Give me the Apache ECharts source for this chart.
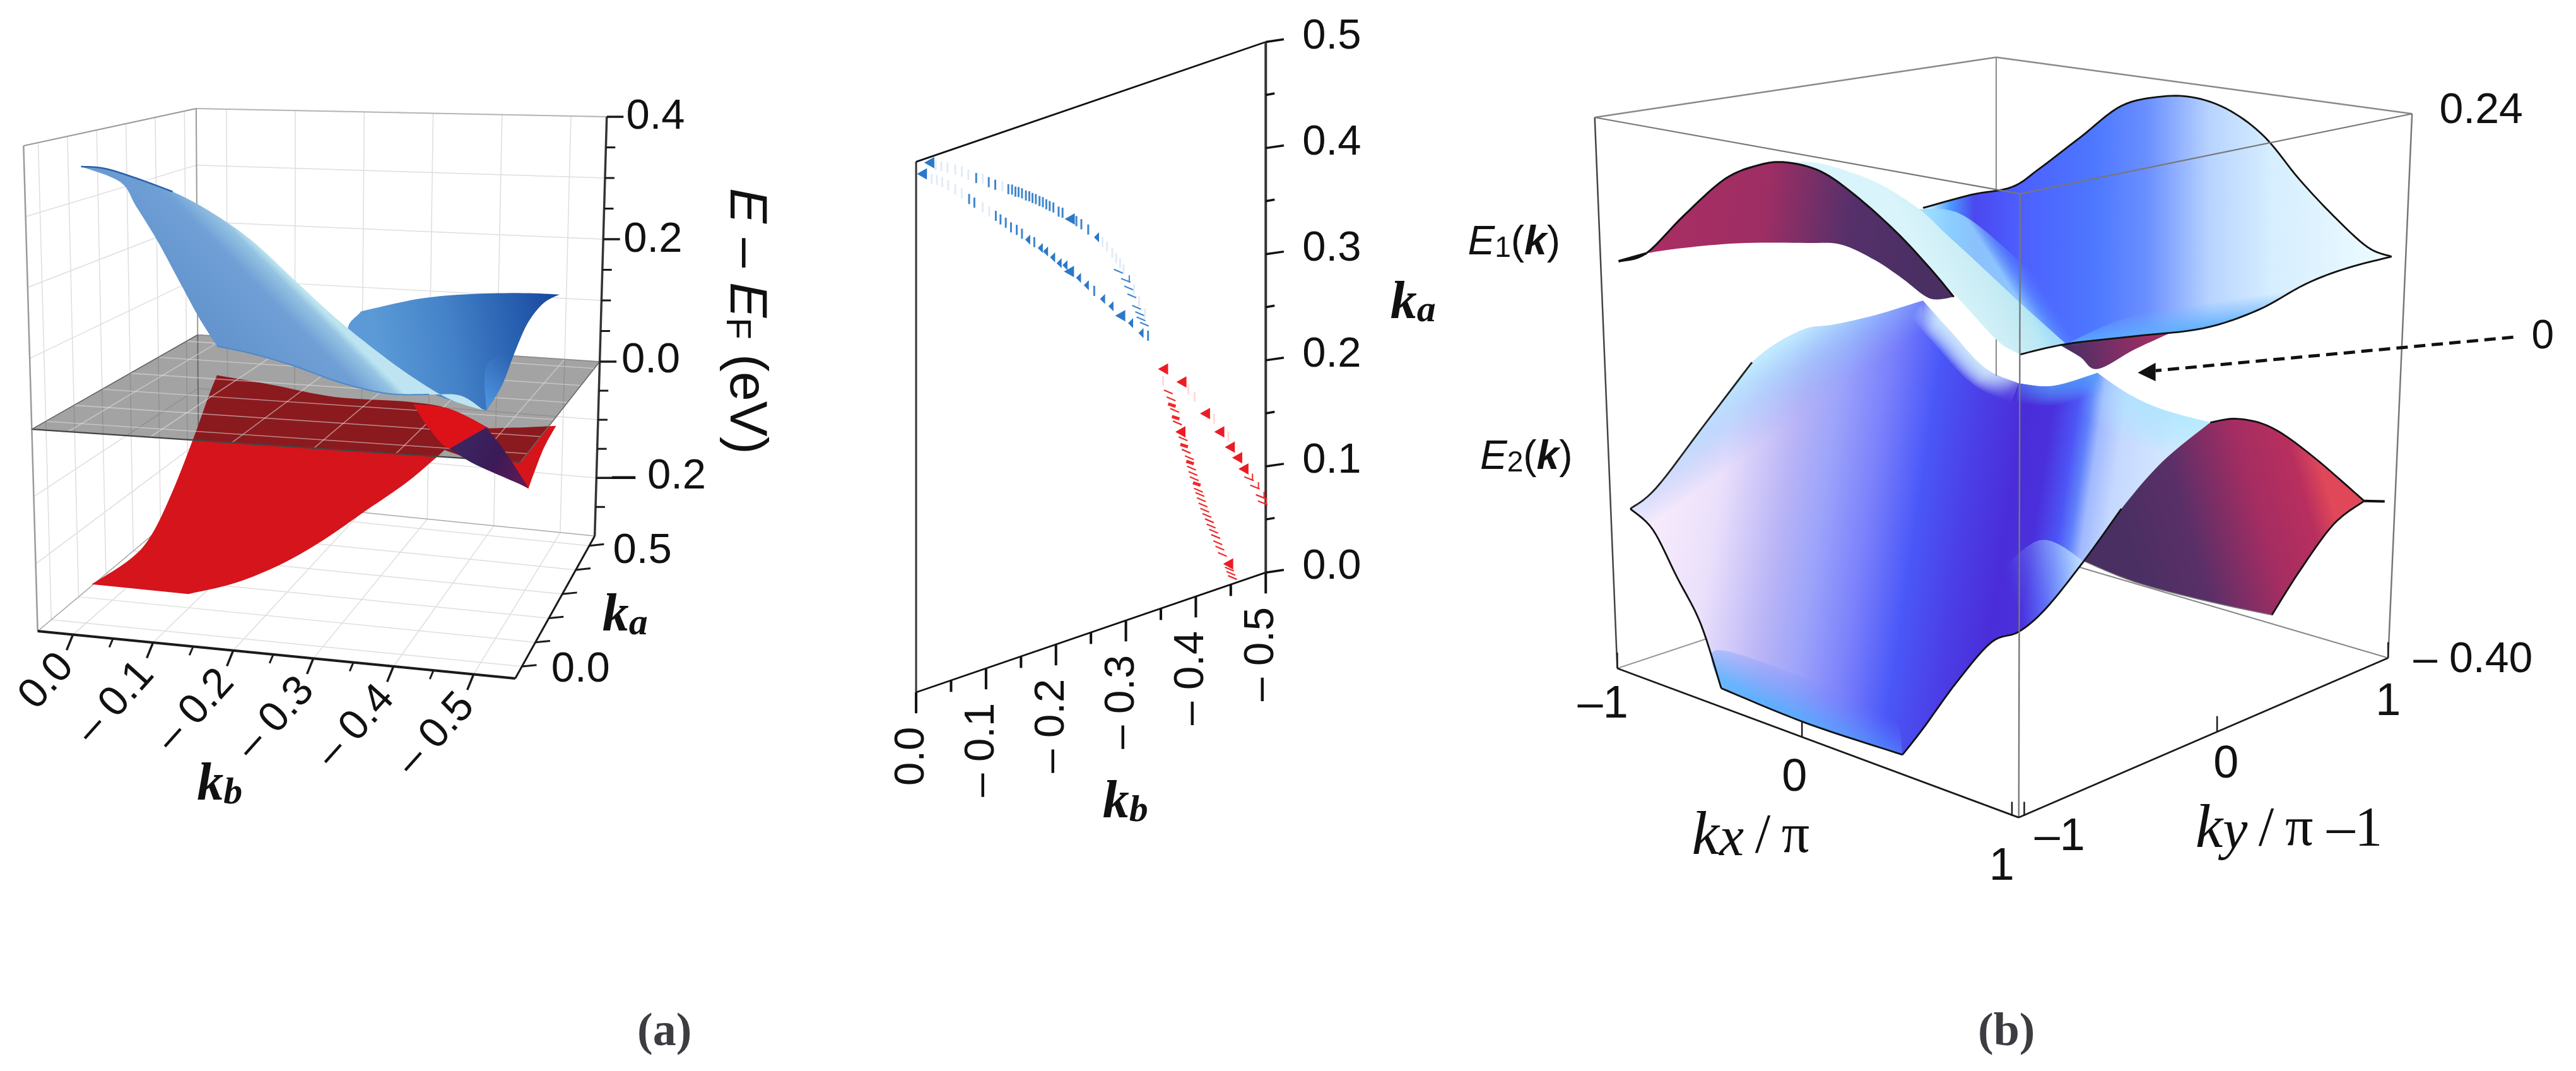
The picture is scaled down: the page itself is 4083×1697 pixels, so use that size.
<!DOCTYPE html>
<html><head><meta charset="utf-8">
<style>html,body{margin:0;background:#fff}#c{width:4083px;height:1697px}</style>
<script src="https://cdn.jsdelivr.net/npm/echarts@6/dist/echarts.min.js"></script>
</head><body><div id="c"></div><script>
// ---------- tick values ----------
const aKbMajor=[0,-0.1,-0.2,-0.3,-0.4,-0.5];
const aKbMinor=[-0.05,-0.15,-0.25,-0.35,-0.45];
const aKaTicks=[0,0.1,0.2,0.3,0.4,0.5];
const aEMajor=[0.4,0.2,0,-0.2];
const aEMinor=[0.35,0.3,0.25,0.15,0.1,0.05,-0.05,-0.1,-0.15,-0.25];
const aEGrid=[0.4,0.3,0.2,0.1,0,-0.1,-0.2];
const mKbMajor=[0,-0.1,-0.2,-0.3,-0.4,-0.5];
const mKbMinor=[-0.05,-0.15,-0.25,-0.35,-0.45];
const mKaMajor=[0,0.1,0.2,0.3,0.4,0.5];
const mKaMinor=[0.05,0.15,0.25,0.35,0.45];

// ---------- panel (a) surfaces: outlines ----------
const aBlueSheetRidge=[[155,188],[200,192],[260,212],[330,240],[400,280],[480,340],[560,420],[640,500],[720,570],[790,625],[860,670],[925,693]];
const aBlueSheetLow=[[925,693],[880,662],[820,660],[740,658],[650,635],[560,600],[480,575],[415,560]];
const aBlueSheetLeft=[[415,560],[380,500],[340,420],[300,340],[260,270],[230,220],[155,188]];
const aBlueWingTop=[[690,488],[800,462],[900,452],[1000,450],[1070,453]];
const aBlueWingRight=[[1070,453],[1040,470],[1010,510],[985,570],[960,640],[930,693]];
const aBlueWingLow=[[930,693],[800,645],[670,540],[690,488]];
const aRedLeft=[[175,1053],[250,1000],[290,950],[330,860],[370,750],[400,660],[415,620]];
const aRedTop=[[415,620],[520,640],[640,665],[780,675],[860,690],[935,730]];
const aRedInner=[[935,730],[900,750],[850,775]];
const aRedBottom=[[850,775],[780,840],[700,900],[620,960],[540,1010],[450,1050],[360,1073]];
const aRedFoot=[[360,1073],[175,1053]];
const aRedWingTop=[[935,730],[1000,728],[1063,725]];
const aRedWingRight=[[1063,725],[1040,770],[1020,825],[1010,855]];
const aRedWingLow=[[1010,855],[960,825],[900,795],[850,775]];
const aCrescentUp=[[790,680],[860,690],[935,730]];
const aCrescentLow=[[935,730],[905,745],[860,772],[820,730],[790,680]];
const aOverlapUp=[[860,772],[930,728]];
const aOverlapRight=[[930,728],[960,770],[985,810],[1010,853]];
const aOverlapLow=[[1010,853],[950,825],[900,800],[860,772]];

// ---------- middle panel: k-space markers (kb, ka, kind) ----------
const blueUpperKb=[-.0197,-.0279,-.0361,-.0448,-.056,-.0653,-.0747,-.0859,-.0953,-.1039,-.1132,-.1233,-.1319,-.1372,-.142,-.1465,-.1514,-.157,-.1619,-.1664,-.1712,-.1765,-.1813,-.1862,-.191,-.1963,-.2038,-.2094,-.2206,-.2292,-.2363,-.2461,-.258,-.2666,-.273,-.2805,-.2861,-.2917,-.2966,-.2891,-.3003,-.304,-.3085,-.3153,-.3198,-.3216,-.3265,-.3317,-.3115,-.319,-.3272];
const blueUpperKa=[.4947,.4903,.4875,.4845,.48,.4759,.4708,.4653,.4628,.4573,.4528,.449,.4444,.4428,.4398,.4384,.4361,.4328,.4309,.4283,.4262,.4231,.421,.4179,.4152,.4126,.407,.4047,.3963,.3923,.3878,.3806,.3706,.3641,.3587,.351,.3448,.3386,.3315,.3316,.3204,.3124,.304,.2916,.2847,.2793,.2732,.2612,.3093,.2967,.283];
const blueUpperKind=[2,0,0,0,0,0,0,1,0,1,1,0,1,1,1,1,1,1,1,1,1,1,1,1,1,1,1,1,2,1,1,1,3,0,0,0,0,0,0,4,5,4,4,4,4,4,4,1,0,0,0];
const blueLowerKb=[-.0092,-.0223,-.0298,-.0373,-.0459,-.056,-.0653,-.0758,-.0833,-.0953,-.1046,-.114,-.1207,-.1282,-.1357,-.1439,-.1514,-.1596,-.169,-.1776,-.1851,-.1952,-.2045,-.2128,-.2195,-.2322,-.2434,-.2547,-.2666,-.2786,-.2928,-.3067,-.3216];
const blueLowerKa=[.4866,.4787,.476,.4724,.4674,.4612,.4555,.4478,.4427,.4355,.4294,.4233,.4184,.4136,.4075,.4033,.398,.3906,.3861,.3786,.3736,.3659,.3583,.3544,.347,.3382,.3287,.3208,.3105,.3009,.2888,.2787,.266];
const blueLowerKind=[2,0,0,0,0,0,0,1,1,0,0,1,1,1,1,1,1,3,1,3,3,3,3,3,2,3,3,1,3,3,2,3,3];
const redLeftKb=[-.354,-.3532,-.3607,-.3646,-.3658,-.3697,-.3712,-.3737,-.3788,-.3818,-.3833,-.3863,-.3908,-.3917,-.3938,-.3959,-.3977,-.4013,-.4037,-.4058,-.4079,-.4103,-.4128,-.4158,-.4194,-.4218,-.4254,-.4284,-.4314,-.4344,-.438,-.4471,-.448,-.4501,-.4525];
const redLeftKa=[.2247,.2137,.2017,.1943,.1881,.1822,.175,.1695,.16,.1528,.1459,.1399,.1329,.1281,.1223,.1169,.1115,.1057,.0993,.0948,.0894,.0839,.0784,.0728,.067,.0615,.0557,.0501,.0435,.0378,.0311,.0201,.015,.0105,.006];
const redLeftKind=[2,0,4,4,6,4,6,4,2,4,6,4,4,6,4,4,4,6,4,4,4,4,4,4,4,4,4,4,4,4,4,2,4,4,4];
const redRightKb=[-.3803,-.3893,-.3983,-.414,-.426,-.4344,-.4465,-.4495,-.46,-.469,-.4765,-.485,-.4931,-.4961];
const redRightKa=[.2066,.1976,.1887,.1693,.1616,.1474,.1402,.1295,.1173,.1047,.0937,.0839,.0731,.0665];
const redRightKind=[2,0,0,2,0,2,0,2,2,2,5,5,5,5];

// ---------- panel (b) surfaces: outlines ----------
const e1LobeArch=[[245,427],[285,412],[340,340],[400,270],[450,243],[490,238],[540,255],[590,300],[650,370],[700,440],[735,495]];
const e1LobeLow=[[735,495],[700,498],[660,460],[620,425],[570,395],[520,392],[430,392],[350,400],[285,412],[245,427]];
const e1MainTop=[[690,325],[760,300],[820,285],[860,250],[920,190],[980,130],[1040,112],[1090,115],[1140,140],[1190,190],[1240,270],[1290,340],[1340,400],[1375,418]];
const e1MainFront=[[1375,418],[1310,440],[1250,470],[1180,520],[1100,555],[1000,570],[900,585],[832,605]];
const e1MainBack=[[832,605],[760,480],[690,325]];
const e1RidgeEdge=[[490,238],[540,255],[590,300],[650,370],[700,440],[750,510],[800,580],[832,605]];
const e1RidgeInner=[[899,585],[865,545],[832,506],[770,430],[720,370],[684,327],[620,275],[540,240],[490,238]];
const e1UnderTop=[[890,587],[1000,570],[1062,558]];
const e1UnderLow=[[1062,558],[1000,595],[945,633],[920,610],[890,587]];
const e2LobeTop=[[1110,735],[1150,728],[1200,745],[1260,800],[1335,885]];
const e2LobeRight=[[1335,885],[1290,930],[1240,1020],[1200,1103]];
const e2LobeLow=[[1200,1103],[1100,1075],[1000,1040],[925,1000]];
const e2LobeLeft=[[925,1000],[980,900],[1040,810],[1110,735]];
const e2Top=[[262,900],[300,860],[370,740],[440,620],[510,560],[560,548],[620,530],[690,502]];
const e2SaddleLeft=[[690,502],[730,560],[780,630],[830,660]];
const e2SaddleArc=[[830,660],[880,665],[945,640]];
const e2SaddleRight=[[945,640],[990,680],[1040,710],[1110,735]];
const e2FrontRight=[[1110,735],[1040,810],[980,900],[925,1000],[870,1090],[830,1135],[790,1155],[740,1230],[690,1320],[660,1370]];
const e2Bottom=[[660,1370],[520,1310],[395,1243]];
const e2Left=[[395,1243],[365,1120],[330,1030],[295,940],[262,900]];
const gapUpper=[[1335,885],[1300,640],[1000,540],[800,560],[700,470],[690,502]];
const backGap=[[797,540],[797,646]];
const arrowLine=[[1553,572],[1030,636]];

// ---------- helpers ----------
const SANS='"Liberation Sans"', SERIF='"Liberation Serif"';
function catmull(edge){
  if(edge.length<3) return edge.slice();
  const out=[];
  for(let i=0;i<edge.length-1;i++){
    const p0=edge[Math.max(i-1,0)],p1=edge[i],p2=edge[i+1],p3=edge[Math.min(i+2,edge.length-1)];
    for(let s=0;s<8;s++){const t=s/8,t2=t*t,t3=t2*t;
      out.push([0,1].map(k=>.5*(2*p1[k]+(p2[k]-p0[k])*t+(2*p0[k]-5*p1[k]+4*p2[k]-p3[k])*t2+(3*p1[k]-p0[k]-3*p2[k]+p3[k])*t3)));}
  }
  out.push(edge[edge.length-1]);
  return out;
}
const poly=(P,edges,fill,opacity)=>({type:'polygon',shape:{points:[].concat(...edges.map(catmull)).map(P)},style:{fill,opacity:opacity==null?1:opacity}});
const grad=(P,a,b,stops)=>{const A=P(a),B=P(b);return new echarts.graphic.LinearGradient(A[0],A[1],B[0],B[1],stops.map(s=>({offset:s[0],color:s[1]})),true);};
const curve=(P,edge,stroke,lw,dash)=>({type:'polyline',shape:{points:catmull(edge).map(P)},style:{fill:null,stroke,lineWidth:lw,lineDash:dash||null,lineCap:'butt',lineJoin:'round'}});
const seg=(P,a,b,stroke,lw)=>({type:'line',shape:{x1:P(a)[0],y1:P(a)[1],x2:P(b)[0],y2:P(b)[1]},style:{stroke,lineWidth:lw}});
function label(P,pt,text,size,o){o=o||{};const q=P(pt);
  return {type:'text',x:q[0],y:q[1],rotation:o.rot||0,style:Object.assign({text,fontFamily:o.family||SANS,fontSize:size,fontStyle:o.style||'normal',fontWeight:o.weight||'normal',fill:'#111',align:o.align||'center',verticalAlign:'middle'},o.rich?{rich:o.rich}:{})};}
const layer=(g,draw)=>({type:'custom',coordinateSystem:'cartesian2d',xAxisIndex:g,yAxisIndex:g,data:[[0,0]],silent:true,clip:false,animation:false,
  renderItem:(params,api)=>({type:'group',children:draw(p=>api.coord(p))})});
const tri=(c,u,v,w)=>[0,1].map(k=>{
  const b=(c[0][k]*(1-u)+c[1][k]*u)*(1-v)+(c[3][k]*(1-u)+c[2][k]*u)*v;
  const t=(c[4][k]*(1-u)+c[5][k]*u)*(1-v)+(c[7][k]*(1-u)+c[6][k]*u)*v;
  return b*(1-w)+t*w;});
// soft glow along an edge: stacked translucent strokes of growing width (the part beyond the surface is masked afterwards)
function glow(P,edge,rgb,maxW,alpha,from,to,stops){
  const out=[];
  for(let i=10;i>=1;i--){
    const s=grad(P,from,to,(stops||[[0,0],[1,1]]).map(q=>[q[0],`rgba(${rgb},${alpha*q[1]})`]));
    out.push(curve(P,edge,s,maxW*i/10));
  }
  return out;
}
const KRICH={k:{fontFamily:SERIF,fontStyle:'italic',fontWeight:'bold',fontSize:84,fill:'#111'},s:{fontFamily:SERIF,fontStyle:'italic',fontWeight:'bold',fontSize:60,fill:'#111',verticalAlign:'bottom'}};

// ---------- projections of the box axes ----------
const aBox=[[72,1150],[985,1248],[1137,953],[380,870],[45,145],[1009,171],[1160,85],[375,68]];
const aE=E=>E>=0?.416+E/.4*.584:.416*(E+.3)/.3;
const projA=(kb,ka,E)=>tri(aBox,(kb-.044)/(-.596),(ka+.05)/.59,aE(E));
const aKbMin=-.552,aKbMax=.044,aKaMin=-.05,aKaMax=.54,aEMin=-.3,aEMax=.4;
const projM=(kb,ka)=>[160+(-kb/.5)*869,1287-(-kb/.5)*229-ka/.5*1014];
const bBox=[[243,1205],[830,1490],[1370,1185],[797,965],[210,152],[832,298],[1405,145],[797,37]];
const bU=x=>x<0?.46*(x+1):.46+.54*x, bV=y=>y<0?.537*(y+1):.537+.463*y;
const projB=(kx,ky,E)=>tri(bBox,bU(kx),bV(ky),(E+.4)/.64);

// ---------- panel (a) ----------
const aGridLayer=layer(0,P=>{
  const C='#dedede',out=[];
  aEGrid.forEach(E=>{out.push(seg(P,projA(aKbMax,aKaMax,E),projA(aKbMin,aKaMax,E),C,1.5),seg(P,projA(aKbMax,aKaMin,E),projA(aKbMax,aKaMax,E),C,1.5));});
  aKbMajor.forEach(k=>{out.push(seg(P,projA(k,aKaMax,aEMin),projA(k,aKaMax,aEMax),C,1.5),seg(P,projA(k,aKaMin,aEMin),projA(k,aKaMax,aEMin),C,1.5));});
  aKaTicks.forEach(k=>{out.push(seg(P,projA(aKbMax,k,aEMin),projA(aKbMax,k,aEMax),C,1.5),seg(P,projA(aKbMax,k,aEMin),projA(aKbMin,k,aEMin),C,1.5));});
  const G='#9a9a9a';
  out.push(seg(P,projA(aKbMax,aKaMin,aEMax),projA(aKbMax,aKaMax,aEMax),G,2),seg(P,projA(aKbMax,aKaMax,aEMax),projA(aKbMin,aKaMax,aEMax),'#b5b5b5',2),
    seg(P,projA(aKbMax,aKaMin,aEMax),projA(aKbMax,aKaMin,aEMin),G,2.5),seg(P,projA(aKbMax,aKaMax,aEMax),projA(aKbMax,aKaMax,aEMin),G,2),
    seg(P,projA(aKbMax,aKaMin,aEMin),projA(aKbMax,aKaMax,aEMin),'#aaa',1.5),seg(P,projA(aKbMax,aKaMax,aEMin),projA(aKbMin,aKaMax,aEMin),'#aaa',1.5));
  return out;
});
const aRedLayer=layer(0,P=>[
  poly(P,[aRedLeft,aRedTop,aRedInner,aRedBottom,aRedFoot],'#d5141b'),
  poly(P,[aRedWingTop,aRedWingRight,aRedWingLow,[[850,775],[935,730]]],'#d5141b')
]);
const aPlaneLayer=layer(0,P=>{
  const c=[projA(aKbMax,aKaMin,0),projA(aKbMin,aKaMin,0),projA(aKbMin,aKaMax,0),projA(aKbMax,aKaMax,0)];
  const out=[{type:'polygon',shape:{points:c.map(P)},style:{fill:'rgba(36,36,36,.42)'}}];
  aKbMajor.forEach(k=>out.push(seg(P,projA(k,aKaMin,0),projA(k,aKaMax,0),'rgba(225,225,225,.55)',1.6)));
  aKaTicks.forEach(k=>out.push(seg(P,projA(aKbMax,k,0),projA(aKbMin,k,0),'rgba(225,225,225,.55)',1.6)));
  out.push(seg(P,c[0],c[1],'#444',2.2),seg(P,c[1],c[2],'#666',1.5),seg(P,c[2],c[3],'#888',1.5),seg(P,c[3],c[0],'#666',1.5));
  return out;
});
const aTopLayer=layer(0,P=>[
  poly(P,[aCrescentUp,aCrescentLow],'#dd1218'),
  poly(P,[aOverlapUp,aOverlapRight,aOverlapLow],grad(P,[880,760],[1000,830],[[0,'#3a2660'],[.55,'#3b1a58'],[1,'#5a1b54']])),
  poly(P,[aBlueWingTop,aBlueWingRight,aBlueWingLow],grad(P,[720,560],[1060,500],[[0,'#5b9ad6'],[.4,'#4583c9'],[.75,'#2a62b2'],[1,'#1a4a9e']])),
  poly(P,[[[930,693],[960,640],[985,570]],[[985,570],[930,600],[930,693]]],grad(P,[925,680],[980,590],[[0,'#4c96e0'],[1,'rgba(70,130,210,0)']])),
  poly(P,[aBlueSheetRidge,aBlueSheetLow,aBlueSheetLeft],grad(P,[390,520],[520,380],[[0,'#6394cd'],[.7,'#6f9fd5'],[.92,'#94c3e2'],[1,'#bde4f0']])),
  curve(P,aBlueSheetRidge.slice(0,4),'#2c5fa8',2.5),
  curve(P,aBlueSheetLow.slice(2),'#4e88c8',2)
]);
const aAxisLayer=layer(0,P=>{
  const out=[],K='#1a1a1a';
  out.push(seg(P,projA(aKbMax,aKaMin,aEMin),projA(aKbMin,aKaMin,aEMin),K,4),seg(P,projA(aKbMin,aKaMin,aEMin),projA(aKbMin,aKaMax,aEMin),K,3),seg(P,projA(aKbMin,aKaMax,aEMin),projA(aKbMin,aKaMax,aEMax),'#333',3.5));
  aKbMajor.forEach(k=>{const a=projA(k,aKaMin,aEMin);out.push(seg(P,a,[a[0]-12,a[1]+32],K,3.5));});
  aKbMinor.forEach(k=>{const a=projA(k,aKaMin,aEMin);out.push(seg(P,a,[a[0]-7,a[1]+18],K,3));});
  aKaTicks.forEach(k=>{const a=projA(aKbMin,k,aEMin);out.push(seg(P,a,[a[0]+28,a[1]-3],K,3));});
  aEMajor.forEach(E=>{const a=projA(aKbMin,aKaMax,E);out.push(seg(P,a,[a[0]+32,a[1]],K,3.5));});
  aEMinor.forEach(E=>{const a=projA(aKbMin,aKaMax,E);out.push(seg(P,a,[a[0]+18,a[1]],K,3));});
  const tks=['0.0','– 0.1','– 0.2','– 0.3','– 0.4','– 0.5'];
  aKbMajor.forEach((k,i)=>{const a=projA(k,aKaMin,aEMin);out.push(label(P,[a[0]-12,a[1]+52],tks[i],67,{rot:.84,align:'right'}));});
  [['0.4',1197,85],['0.2',1192,340],['0.0',1188,590],['– 0.2',1170,830]].forEach(t=>out.push(label(P,[t[1],t[2]],t[0],67,{align:'left'})));
  out.push(label(P,[1228,985],'0.5',67),label(P,[1110,1230],'0.0',67));
  out.push(label(P,[1195,1120],'{k|k}{s|a}',84,{rich:KRICH}),label(P,[420,1470],'{k|k}{s|b}',84,{rich:KRICH}));
  out.push(label(P,[1425,508],'{i|E} {r|– }{i|E}{f|F}{r| (eV)}',84,{rot:-Math.PI/2,rich:{i:{fontFamily:SANS,fontStyle:'italic',fontSize:84,fill:'#111'},r:{fontFamily:SANS,fontSize:84,fill:'#111'},f:{fontFamily:SANS,fontSize:56,fill:'#111',verticalAlign:'bottom'}}}));
  return out;
});

// ---------- middle panel ----------
function marks(P,kb,ka,kind,dark,light,fill){
  const out=[];
  kb.forEach((b,i)=>{
    const q=P(projM(b,ka[i])),x=q[0],y=q[1],k=kind[i];
    const ln=(x1,y1,x2,y2,c,w)=>({type:'line',shape:{x1:x+x1,y1:y+y1,x2:x+x2,y2:y+y2},style:{stroke:c,lineWidth:w}});
    const tr=(l,r,h)=>({type:'polygon',shape:{points:[[x-l,y],[x+r,y-h],[x+r,y+h]]},style:{fill}});
    if(k===0) out.push(ln(0,-8,0,8,light,3));
    else if(k===1) out.push(ln(0,-8,0,8,dark,3));
    else if(k===2) out.push(tr(9,7,9));
    else if(k===3) out.push(tr(4,4,8));
    else if(k===4) out.push(ln(-7,-3,7,3,dark,2.2));
    else if(k===5) out.push(ln(-8,-3,7,3,dark,2.2),ln(5,-8,5,3,dark,2));
    else if(k===6) out.push(ln(-6,-2,6,2,dark,5));
  });
  return out;
}
const mAxisLayer=layer(1,P=>{
  const out=[],K='#111',G='#333';
  const BL=projM(0,0),TL=projM(0,.5),TR=projM(-.5,.5),BR=projM(-.5,0);
  out.push(seg(P,BL,TL,G,3),seg(P,TL,TR,K,2.8),seg(P,BL,BR,K,2.8),seg(P,BR,TR,G,4));
  mKbMajor.forEach(k=>{const a=projM(k,0);out.push(seg(P,a,[a[0],a[1]+40],K,4));});
  mKbMinor.forEach(k=>{const a=projM(k,0);out.push(seg(P,a,[a[0],a[1]+22],K,4));});
  mKaMajor.forEach(k=>{const a=projM(-.5,k);out.push(seg(P,a,[a[0]+45,a[1]-5],K,3.5));});
  mKaMinor.forEach(k=>{const a=projM(-.5,k);out.push(seg(P,a,[a[0]+22,a[1]-3],K,3.5));});
  ['0.0','– 0.1','– 0.2','– 0.3','– 0.4','– 0.5'].forEach((t,i)=>{const a=projM(mKbMajor[i],0);out.push(label(P,[a[0]-10,a[1]+66],t,67,{rot:Math.PI/2,align:'right'}));});
  ['0.0','0.1','0.2','0.3','0.4','0.5'].forEach((t,i)=>{const a=projM(-.5,mKaMajor[i]);out.push(label(P,[1120,a[1]-10],t,67,{align:'left'}));});
  out.push(label(P,[1395,545],'{k|k}{s|a}',84,{rich:KRICH}),label(P,[680,1500],'{k|k}{s|b}',84,{rich:KRICH}));
  return out;
});
const mMarkLayer=layer(1,P=>[].concat(
  marks(P,blueUpperKb,blueUpperKa,blueUpperKind,'#3f86cc','#e2ebf8','#2b79c9'),
  marks(P,blueLowerKb,blueLowerKa,blueLowerKind,'#3f86cc','#e2ebf8','#2b79c9'),
  marks(P,redLeftKb,redLeftKa,redLeftKind,'#ee2a2a','#ffdcd8','#ec1c24'),
  marks(P,redRightKb,redRightKa,redRightKind,'#ee2a2a','#ffdcd8','#ec1c24')));

// ---------- panel (b) ----------
const bBackLayer=layer(2,P=>{
  const G='#8a8a8a';
  return [seg(P,projB(-1,-1,.24),projB(-1,1,.24),G,2.5),seg(P,projB(-1,1,.24),projB(1,1,.24),G,2.5),seg(P,projB(-1,1,.24),projB(-1,1,-.4),G,2),
    seg(P,projB(-1,-1,-.4),projB(-1,1,-.4),'#999',2),seg(P,projB(-1,1,-.4),projB(1,1,-.4),'#888',2.2),
    seg(P,projB(-1,-1,.24),projB(-1,-1,-.4),'#444',2.5),seg(P,projB(1,1,.24),projB(1,1,-.4),'#777',2.5)];
});
const CRIM=[[0,'#a92e63'],[.4,'#9d2e64'],[.72,'#55306a'],[1,'#4a2f63']];
const bLowerLayer=layer(2,P=>[].concat(
  [poly(P,[e2Top,e2SaddleLeft,e2SaddleArc,e2SaddleRight,e2FrontRight,e2Bottom,e2Left],grad(P,[262,797],[1091,960],[[0,'#fff8fd'],[.045,'#f8ecfb'],[.163,'#ebe0fb'],[.28,'#b7b3f6'],[.343,'#9da4fa'],[.427,'#7a80fb'],[.509,'#4a58f8'],[.593,'#4b3ee6'],[.667,'#4a2dd8'],[.717,'#4a30dc'],[.759,'#4d55f5'],[.781,'#5f80fb'],[.801,'#a0b8ff'],[.842,'#c5d8ff'],[1,'#e0f5ff']])),
   poly(P,[e2Top,[[690,502],[660,640],[480,780],[340,960],[262,900]]],grad(P,[500,570],[560,680],[[0,'rgba(190,235,255,.95)'],[.45,'rgba(150,205,255,.5)'],[1,'rgba(130,170,255,0)']])),
   poly(P,[e2Bottom,[[395,1243],[388,1170],[520,1225],[640,1290],[660,1370]]],grad(P,[505,1300],[535,1225],[[0,'rgba(70,175,255,.75)'],[.5,'rgba(90,155,255,.38)'],[1,'rgba(100,130,255,0)']])),
   poly(P,[[[925,1000],[870,1090],[830,1135],[790,1155]],[[790,1155],[790,1050],[860,960],[925,1000]]],grad(P,[925,1000],[815,1040],[[0,'rgba(190,225,255,.95)'],[.5,'rgba(140,175,255,.5)'],[1,'rgba(90,110,255,0)']]))],
  glow(P,e2SaddleLeft,'215,243,255',64,.2,[690,502],[830,660],[[0,0],[.2,1],[.75,1],[1,.15]]),
  glow(P,e2SaddleArc,'85,165,255',60,.12,[800,650],[880,665]),
  glow(P,e2SaddleRight,'170,230,255',130,.12,[945,640],[1010,690]),
  [poly(P,[e2LobeTop,e2LobeRight,e2LobeLow,e2LobeLeft],grad(P,[1000,1010],[1290,900],[[0,'#4a2f63'],[.3,'#5a2f68'],[.65,'#a52d62'],[.88,'#b82f5e'],[1,'#e0485a']])),
   poly(P,[e2SaddleLeft,e2SaddleArc,e2SaddleRight,e2LobeTop,gapUpper],'#fff'),
   curve(P,backGap,'#8a8a8a',2),
   curve(P,e2LobeTop,'#111',2.8),curve(P,e2LobeRight,'#111',2.8),curve(P,[[1335,885],[1365,886]],'#111',4),curve(P,e2LobeLow,'#777',1.5),
   curve(P,e2Top.slice(0,4),'#222',2.8),curve(P,e2Left,'#111',2.8),curve(P,e2Bottom,'#111',2.8),curve(P,e2FrontRight.slice(2),'#111',2.8)]
));
const bUpperLayer=layer(2,P=>[
  poly(P,[e1UnderTop,e1UnderLow],grad(P,[900,600],[1060,570],[[0,'#4a2f63'],[.45,'#7d2e66'],[1,'#b02e62']])),
  poly(P,[e1LobeArch,e1LobeLow],grad(P,[300,340],[690,400],CRIM)),
  poly(P,[e1MainTop,e1MainFront,e1MainBack],grad(P,[700,350],[1375,350],[[0,'#bfeaff'],[.044,'#4a9aff'],[.096,'#4a48ee'],[.2,'#4d60ff'],[.357,'#4d78ff'],[.47,'#6a8fff'],[.607,'#b8d4ff'],[.74,'#d6eeff'],[1,'#eefcff']])),
  poly(P,[[[899,585],[1000,570],[1100,555],[1180,520],[1250,470]],[[1250,470],[1150,500],[1000,530],[899,585]]],grad(P,[1000,572],[995,525],[[0,'rgba(90,175,255,.9)'],[1,'rgba(110,180,255,0)']])),
  poly(P,[[[899,585],[832,506],[770,430],[684,327]],[[684,327],[750,340],[850,450],[950,578],[899,585]]],grad(P,[832,506],[868,476],[[0,'rgba(150,215,255,.85)'],[.45,'rgba(100,170,255,.45)'],[1,'rgba(80,110,250,0)']])),
  poly(P,[e1RidgeEdge,[[832,605],[899,585]],e1RidgeInner],grad(P,[690,425],[790,355],[[0,'#daf4fb'],[.6,'#c8ecf4'],[.85,'#b8e8f4'],[1,'#a5ddfa']])),
  curve(P,e1MainFront,'#111',2.8),curve(P,e1MainTop,'#111',2.8),curve(P,e1LobeArch,'#111',3),
  curve(P,[[245,427],[285,412]],'#111',4)
]);
const bFrontLayer=layer(2,P=>{
  const out=[],G='#777',K='#1a1a1a';
  out.push(seg(P,projB(-1,-1,.24),projB(1,-1,.24),G,2.2),seg(P,projB(1,-1,.24),projB(1,1,.24),G,2.2),seg(P,projB(1,-1,.24),projB(1,-1,-.4),G,2.4),
    seg(P,projB(-1,-1,-.4),projB(1,-1,-.4),K,2.8),seg(P,projB(1,-1,-.4),projB(1,1,-.4),K,2.8));
  [-1,0,1].forEach(k=>{const a=projB(k,-1,-.4);out.push(seg(P,k===1?[a[0]-10,a[1]-3]:a,[k===1?a[0]-10:a[0],a[1]-30],K,2.5));
    const b=projB(1,k,-.4);out.push(seg(P,k===-1?[b[0]+8,b[1]-3]:b,[k===-1?b[0]+8:b[0],b[1]-30],K,2.5));});
  [['–1',222,1275],['0',502,1415],['1',805,1585],['–1',890,1528],['0',1133,1390],['1',1370,1270]].forEach(t=>out.push(label(P,[t[1],t[2]],t[0],72)));
  out.push(label(P,[1445,140],'0.24',68,{align:'left'}),label(P,[1407,1190],'– 0.40',68,{align:'left'}),label(P,[1596,572],'0',64));
  const I={fontFamily:SANS,fontStyle:'italic',fontSize:64,fill:'#111'},R={fontFamily:SANS,fontSize:64,fill:'#111'},B={fontFamily:SANS,fontStyle:'italic',fontWeight:'bold',fontSize:64,fill:'#111'},S={fontFamily:SANS,fontSize:46,fill:'#111',verticalAlign:'bottom'};
  const eRich={i:I,r:R,b:B,s:S};
  out.push(label(P,[92,392],'{i|E}{s|1}{r|(}{b|k}{r|)}',64,{rich:eRich}),label(P,[110,802],'{i|E}{s|2}{r|(}{b|k}{r|)}',64,{rich:eRich}));
  const K1={fontFamily:SERIF,fontStyle:'italic',fontSize:98,fill:'#111'},K2={fontFamily:SERIF,fontStyle:'italic',fontSize:88,fill:'#111',verticalAlign:'bottom'},K3={fontFamily:SERIF,fontSize:88,fill:'#111'};
  const kRich={k:K1,s:K2,r:K3};
  out.push(label(P,[438,1528],'{k|k}{s|x}{r|\u2009/\u2009π}',98,{rich:kRich}),label(P,[1225,1515],'{k|k}{s|y}{r|\u2009/\u2009π –1}',98,{rich:kRich}));
  out.push(curve(P,arrowLine,'#111',5,[18,10]));
  const tip=arrowLine[1];
  out.push({type:'polygon',shape:{points:[[tip[0]-26,tip[1]+4],[tip[0],tip[1]-15],[tip[0],tip[1]+20]].map(P)},style:{fill:'#111'}});
  return out;
});

const capRich={a:{fontFamily:SERIF,fontSize:74,fill:'#111'},b:{fontFamily:SERIF,fontSize:74,fontWeight:'bold',fill:'#111'}};
const axes=(g,x)=>({gridIndex:g,type:'value',min:0,max:x,show:false});
const option={
  animation:false,backgroundColor:'#fff',
  title:[{text:'{a|(}{b|a}{a|)}',left:1005,top:1595,textStyle:{rich:capRich}},{text:'{a|(}{b|b}{a|)}',left:3130,top:1595,textStyle:{rich:capRich}}],
  grid:[{left:0,top:120,width:1300,height:1200},{left:1350,top:30,width:1000,height:1300},{left:2300,top:60,width:1783,height:1300}],
  xAxis:[axes(0,1568),axes(1,1568),axes(2,1644.7)],
  yAxis:[0,1,2].map(g=>Object.assign(axes(g,1568),{inverse:true})),
  series:[aGridLayer,aRedLayer,aPlaneLayer,aTopLayer,aAxisLayer,mAxisLayer,mMarkLayer,bBackLayer,bLowerLayer,bUpperLayer,bFrontLayer]
};
echarts.init(document.getElementById('c'),null,{renderer:'canvas'}).setOption(option);
</script></body></html>
